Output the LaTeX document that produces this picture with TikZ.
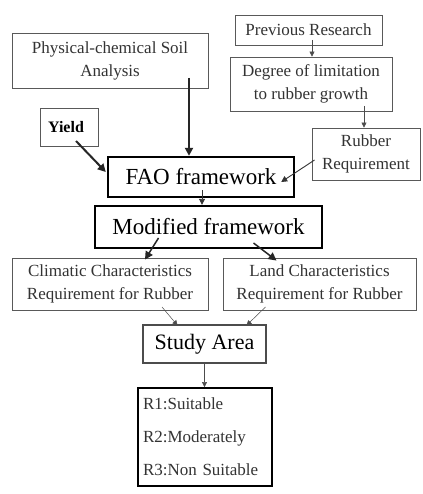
\documentclass[tikz,border=0pt]{standalone}
\usepackage{fontspec}
\setmainfont{Liberation Serif}
\usetikzlibrary{arrows.meta,calc}
\begin{document}
\begin{tikzpicture}[x=1pt,y=-1pt,
  box/.style={draw=black!65,line width=0.9pt,text=black!80,inner sep=0pt,align=center,font=\fontsize{17}{23}\selectfont},
  bigbox/.style={draw=black,line width=2.4pt,inner sep=0pt,align=center,font=\fontsize{23}{27}\selectfont},
  arr/.style={line width=0.9pt,draw=black!80,-{Triangle[length=6pt,width=6pt]}},
  tarr/.style={line width=0.5pt,draw=black!70,-{Triangle[length=5pt,width=5pt]}},
  barr/.style={line width=2pt,draw=black!85,-{Triangle[length=8pt,width=8pt]}}]
\useasboundingbox[fill=white] (0,0) rectangle (422,494);
\node[box,minimum width=196pt,minimum height=55pt] (phys) at (110,60.5) {Physical-chemical Soil\\Analysis};
\node[box,minimum width=147pt,minimum height=30pt] (prev) at (308.5,30) {Previous Research};
\node[box,minimum width=162pt,minimum height=54pt] (deg) at (311,84) {Degree of limitation\\to rubber growth};
\node[box,minimum width=108pt,minimum height=52pt] (rub) at (366,154) {Rubber\\Requirement};
\node[box,minimum width=58pt,minimum height=38pt,font=\fontsize{16}{20}\selectfont\bfseries,text=black] (yield) at (69,127) {Yield\hspace{6pt}};
\node[bigbox,minimum width=186pt,minimum height=40pt] (fao) at (201,177) {FAO framework};
\node[bigbox,minimum width=227pt,minimum height=42pt] (mod) at (208.5,227) {Modified framework};
\node[box,minimum width=196pt,minimum height=52pt] (clim) at (110,284) {Climatic Characteristics\\Requirement for Rubber};
\node[box,minimum width=193pt,minimum height=52pt] (land) at (319.5,284) {Land Characteristics\\Requirement for Rubber};
\node[box,draw=black!70,line width=1.2pt,minimum width=123pt,minimum height=38pt,text=black,font=\fontsize{22}{26}\selectfont] (study) at (204.5,344) {Study Area};
\node[draw=black,line width=1.8pt,minimum width=134pt,minimum height=98pt,text width=124pt,inner sep=0pt,align=left,text=black!80,font=\fontsize{17}{33}\selectfont] (res) at (205,437) {R1:Suitable\\R2:Moderately\\R3:Non Suitable};
% connectors
\coordinate (p1) at ($(phys.center)+(79,17.5)$);
\draw[barr] (p1) -- (fao.north -| p1);
\draw[barr] ($(yield.center)+(7,14)$) -- ($(fao.west)+(-1,-5)$);
\draw[arr] ($(rub.west)+(3,6)$) -- ($(fao.east)+(-14,5)$);
\coordinate (p2) at ($(prev.center)+(3.5,10)$);
\draw[tarr] (p2) -- (deg.north -| p2);
\coordinate (p3) at ($(deg.center)+(53,22)$);
\draw[tarr] (p3) -- (rub.north -| p3);
\coordinate (p4) at ($(fao.center)+(1,13)$);
\draw[arr] (p4) -- (mod.north -| p4);
\draw[barr,line width=1.5pt] ($(mod.center)+(-50,11)$) -- ($(clim.north)+(35,2)$);
\draw[barr,line width=1.5pt] ($(mod.center)+(45,16)$) -- ($(land.north)+(-43,3)$);
\draw[tarr] ($(clim.center)+(52,23)$) -- ($(study.north)+(-27,1)$);
\draw[tarr] ($(land.center)+(-54,23)$) -- ($(study.north)+(42,1)$);
\draw[tarr] (study.south) -- (res.north -| study.south);
\end{tikzpicture}
\end{document}
